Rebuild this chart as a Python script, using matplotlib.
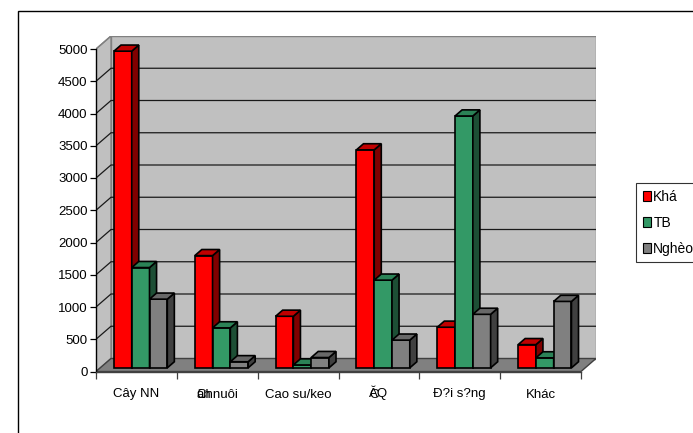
import numpy as np
import matplotlib.pyplot as plt
from matplotlib.patches import Polygon, Patch, Rectangle

plt.rcParams['font.family'] = ['Liberation Sans', 'DejaVu Sans']
plt.rcParams['font.size'] = 9.5

# Data
categories = ["Cây NN", "Chnuôi", "Cao su/keo", "ĂQ", "Đ?i s?ng", "Khác"]
overlay = {1: "ăn", 3: "C"}     # glyphs printed on top of the label start
series = ["Khá", "TB", "Nghèo"]
kha = [4910, 1740, 800, 3380, 630, 360]
tb = [1555, 620, 45, 1360, 3905, 155]
ngheo = [1065, 95, 160, 430, 830, 1030]
values = [kha, tb, ngheo]
yticks = np.arange(0, 5001, 500)

face = ['#ff0000', '#339966', '#808080']
side = ['#800000', '#1d4f35', '#404040']
top = ['#c00000', '#2b8256', '#686868']

W, H = 693, 433
fig = plt.figure(figsize=(W / 100, H / 100), dpi=100)

# oblique depth of the plot box, in data units
n = len(categories)
px_cat = (581 - 96) / n
px_val = (371.5 - 49) / 5000
DX = 15 / px_cat
DY = 13 / px_val

ax = fig.add_axes([96 / W, (H - 371.5) / H, (485 + 15) / W, (322.5 + 13) / H])
ax.set_xlim(0, n + DX)
ax.set_ylim(0, 5000 + DY)
ax.patch.set_visible(False)

wall_c = '#c0c0c0'
edge_c = '#808080'
# back wall, left wall, floor
ax.add_patch(Polygon([(DX, DY), (n + DX, DY), (n + DX, 5000 + DY), (DX, 5000 + DY)],
                     closed=True, fc=wall_c, ec=edge_c, lw=1, zorder=0))
ax.add_patch(Polygon([(0, 0), (DX, DY), (DX, 5000 + DY), (0, 5000)],
                     closed=True, fc=wall_c, ec=edge_c, lw=1, zorder=0))
ax.add_patch(Polygon([(0, 0), (n, 0), (n + DX, DY), (DX, DY)],
                     closed=True, fc='#808080', ec='#404040', lw=1, zorder=0.5))

# gridlines on the walls
for v in yticks[1:-1]:
    ax.plot([0, DX, n + DX], [v, v + DY, v + DY], color='#1a1a1a', lw=0.9, zorder=0.6)
ax.plot([0, DX], [5000, 5000 + DY], color=edge_c, lw=1, zorder=0.6)

# 3D columns
f0, f1 = 0.28, 0.75
bw = 0.22
gap = (1 - 3 * bw) / 2
for i in range(n):
    for k in range(3):
        v = values[k][i]
        x0 = i + gap + k * bw + f0 * DX
        y0 = f0 * DY
        ex, ey = (f1 - f0) * DX, (f1 - f0) * DY
        z = 2 + i * 3 + k
        ax.bar(x0, v, width=bw, bottom=y0, align='edge', color=face[k],
               edgecolor='black', linewidth=1.2, zorder=z)
        ax.add_patch(Polygon([(x0 + bw, y0), (x0 + bw + ex, y0 + ey),
                              (x0 + bw + ex, y0 + ey + v), (x0 + bw, y0 + v)],
                             closed=True, fc=side[k], ec='black', lw=1.2, zorder=z))
        ax.add_patch(Polygon([(x0, y0 + v), (x0 + bw, y0 + v),
                              (x0 + bw + ex, y0 + ey + v), (x0 + ex, y0 + ey + v)],
                             closed=True, fc=top[k], ec='black', lw=1.2, zorder=z))

# axes
for s in ['top', 'right']:
    ax.spines[s].set_visible(False)
ax.spines['left'].set_bounds(0, 5000)
ax.spines['left'].set_linewidth(1)
ax.spines['bottom'].set_bounds(0, n)
ax.spines['bottom'].set_color('#404040')
ax.spines['bottom'].set_linewidth(1)
ax.set_yticks(yticks)
ax.tick_params(axis='y', length=4, width=0.9, pad=2, labelsize=9.5)
ax.set_xticks(np.arange(0, n + 1))
ax.set_xticklabels([])
ax.tick_params(axis='x', length=5, width=0.9, color='#404040')

# category labels, baseline ~26 px under the floor edge
renderer = fig.canvas.get_renderer()
for i, lab in enumerate(categories):
    t = ax.annotate(lab, xy=(i + 0.5, 0), xycoords='data', xytext=(0, -26),
                    textcoords='offset pixels', ha='center', va='baseline')
    if i in overlay:
        w = t.get_window_extent(renderer).width
        ax.annotate(overlay[i], xy=(i + 0.5, 0), xycoords='data',
                    xytext=(-w / 2, -26), textcoords='offset pixels',
                    ha='left', va='baseline')

# legend
handles = [Patch(facecolor=face[k], edgecolor='black', linewidth=0.8) for k in range(3)]
leg = fig.legend(handles, series, loc='upper left',
                 bbox_to_anchor=(636 / W, 1 - 183 / H), borderaxespad=0,
                 frameon=True, fancybox=False, edgecolor='black',
                 handlelength=0.55, handleheight=0.7, handletextpad=0.2,
                 labelspacing=0.85, borderpad=0.5, fontsize=10)
leg.get_frame().set_linewidth(0.8)

# outer chart border
fig.patches.append(Rectangle((18 / W, -0.1), 1.2, 1.1 - 11 / H, transform=fig.transFigure,
                             fill=False, ec='black', lw=1))

fig.savefig('out.png', dpi=100)
